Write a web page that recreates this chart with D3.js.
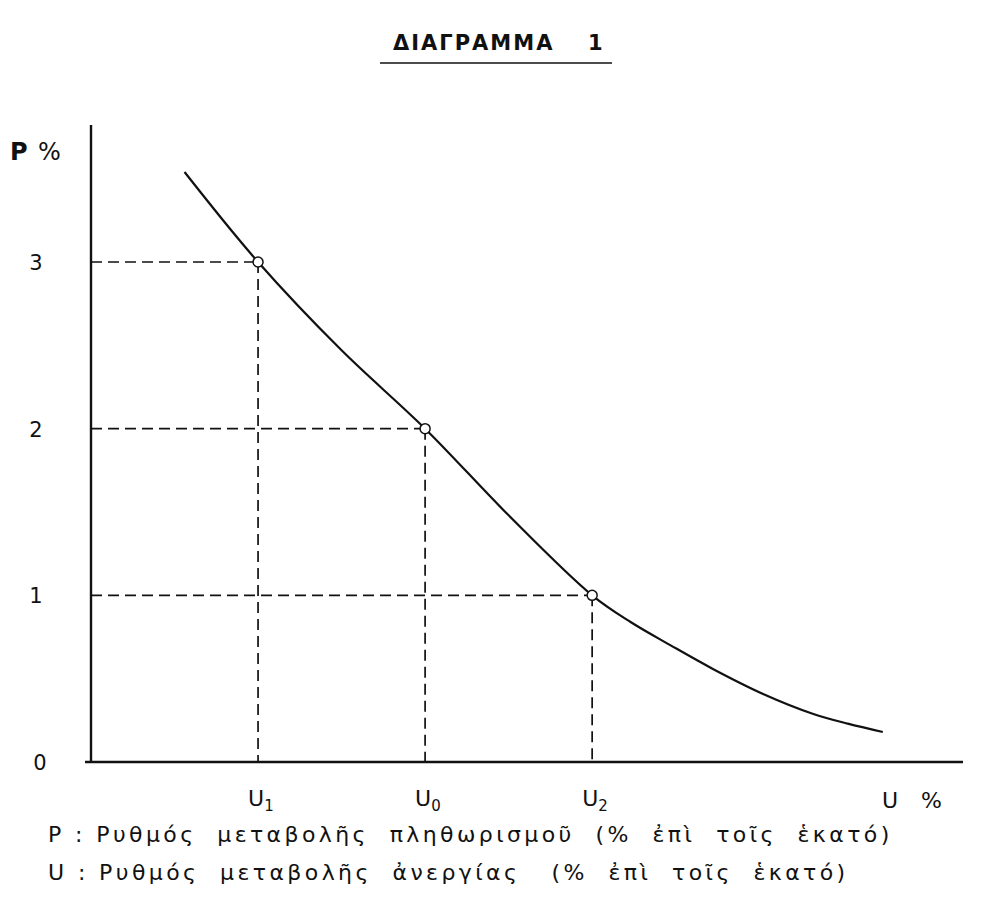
<!DOCTYPE html>
<html>
<head>
<meta charset="utf-8">
<script src="https://cdn.jsdelivr.net/npm/d3@7"></script>
<style>
  body { margin: 0; background: #fff; }
  text { font-family: 'DejaVu Sans', sans-serif; fill: #111; }
</style>
</head>
<body>
<svg></svg>
<script>
const w = 987;
const h = 908;

// curve (U in arbitrary units, P in %)
const curveU = [0.56, 1, 1.5, 2, 2.5, 3, 3.23, 3.47, 3.72, 4.02, 4.32, 4.53, 4.74];
const curveP = [3.54, 3, 2.47, 2, 1.48, 1, 0.84, 0.7, 0.56, 0.41, 0.29, 0.23, 0.18];

// marked points
const markU = [1, 2, 3];
const markP = [3, 2, 1];
const markNames = ['1', '0', '2'];

const yTicks = [0, 1, 2, 3];

const svg = d3.select('svg').attr('width', w).attr('height', h);

const x = d3.scaleLinear().domain([0, 5.22]).range([91, 963]);
const y = d3.scaleLinear().domain([0, 3]).range([762, 262]);

// title
svg.append('text')
  .attr('x', 393)
  .attr('y', 50)
  .style('font-size', '21px')
  .style('font-weight', 'bold')
  .style('letter-spacing', '2px')
  .text('ΔΙΑΓΡΑΜΜΑ');
svg.append('text')
  .attr('x', 588)
  .attr('y', 50)
  .style('font-size', '21px')
  .style('font-weight', 'bold')
  .text('1');
svg.append('line')
  .attr('x1', 380).attr('x2', 612)
  .attr('y1', 63).attr('y2', 63)
  .attr('stroke', '#111')
  .attr('stroke-width', 1.5);

// dashed guides
const marks = markU.map((u, i) => ({ u, p: markP[i] }));
svg.selectAll('.hguide')
  .data(marks)
  .enter()
  .append('line')
  .attr('class', 'hguide')
  .attr('x1', x(0)).attr('x2', d => x(d.u))
  .attr('y1', d => y(d.p)).attr('y2', d => y(d.p))
  .attr('stroke', '#111')
  .attr('stroke-width', 1.7)
  .attr('stroke-dasharray', '11,6');
svg.selectAll('.vguide')
  .data(marks)
  .enter()
  .append('line')
  .attr('class', 'vguide')
  .attr('x1', d => x(d.u)).attr('x2', d => x(d.u))
  .attr('y1', d => y(d.p)).attr('y2', y(0))
  .attr('stroke', '#111')
  .attr('stroke-width', 1.7)
  .attr('stroke-dasharray', '11,6');

// axes
svg.append('line')
  .attr('x1', x(0)).attr('x2', x(0))
  .attr('y1', 125).attr('y2', y(0))
  .attr('stroke', '#111')
  .attr('stroke-width', 2.4);
svg.append('line')
  .attr('x1', x(0) - 6).attr('x2', x(5.22))
  .attr('y1', y(0)).attr('y2', y(0))
  .attr('stroke', '#111')
  .attr('stroke-width', 2.4);

// curve
const pts = curveU.map((u, i) => [x(u), y(curveP[i])]);
svg.append('path')
  .attr('d', d3.line().curve(d3.curveCatmullRom.alpha(0.5))(pts))
  .attr('fill', 'none')
  .attr('stroke', '#111')
  .attr('stroke-width', 2.2);

svg.selectAll('.mark')
  .data(marks)
  .enter()
  .append('circle')
  .attr('class', 'mark')
  .attr('cx', d => x(d.u))
  .attr('cy', d => y(d.p))
  .attr('r', 5)
  .attr('fill', '#fff')
  .attr('stroke', '#111')
  .attr('stroke-width', 1.5);

// y tick labels
svg.selectAll('.ylab')
  .data(yTicks)
  .enter()
  .append('text')
  .attr('class', 'ylab')
  .attr('x', d => (d === 0 ? 40 : 36))
  .attr('y', d => y(d) + 8)
  .attr('text-anchor', 'middle')
  .style('font-size', '21px')
  .text(d => d);

svg.append('text')
  .attr('x', 10)
  .attr('y', 160)
  .style('font-size', '24px')
  .style('font-weight', 'bold')
  .text('P');
svg.append('text')
  .attr('x', 38)
  .attr('y', 160)
  .style('font-size', '24px')
  .text('%');

// x labels
const xl = svg.selectAll('.xlab')
  .data(marks)
  .enter()
  .append('text')
  .attr('class', 'xlab')
  .attr('x', d => x(d.u) - 10)
  .attr('y', 806)
  .style('font-size', '22px');
xl.append('tspan').text('U');
xl.append('tspan')
  .attr('dy', 5)
  .style('font-size', '15px')
  .text((d, i) => markNames[i]);

svg.append('text')
  .attr('x', 882)
  .attr('y', 808)
  .style('font-size', '22px')
  .style('letter-spacing', '8px')
  .text('U %');

// legend
svg.append('text')
  .attr('x', 48)
  .attr('y', 842)
  .style('font-size', '22px')
  .style('letter-spacing', '3.4px')
  .attr('xml:space', 'preserve')
  .text('P : Ρυθμός  μεταβολῆς  πληθωρισμοῦ  (%  ἐπὶ  τοῖς  ἑκατό)');
svg.append('text')
  .attr('x', 48)
  .attr('y', 880)
  .style('font-size', '22px')
  .style('letter-spacing', '3.4px')
  .attr('xml:space', 'preserve')
  .text('U : Ρυθμός  μεταβολῆς  ἀνεργίας   (%  ἐπὶ  τοῖς  ἑκατό)');
</script>
</body>
</html>
